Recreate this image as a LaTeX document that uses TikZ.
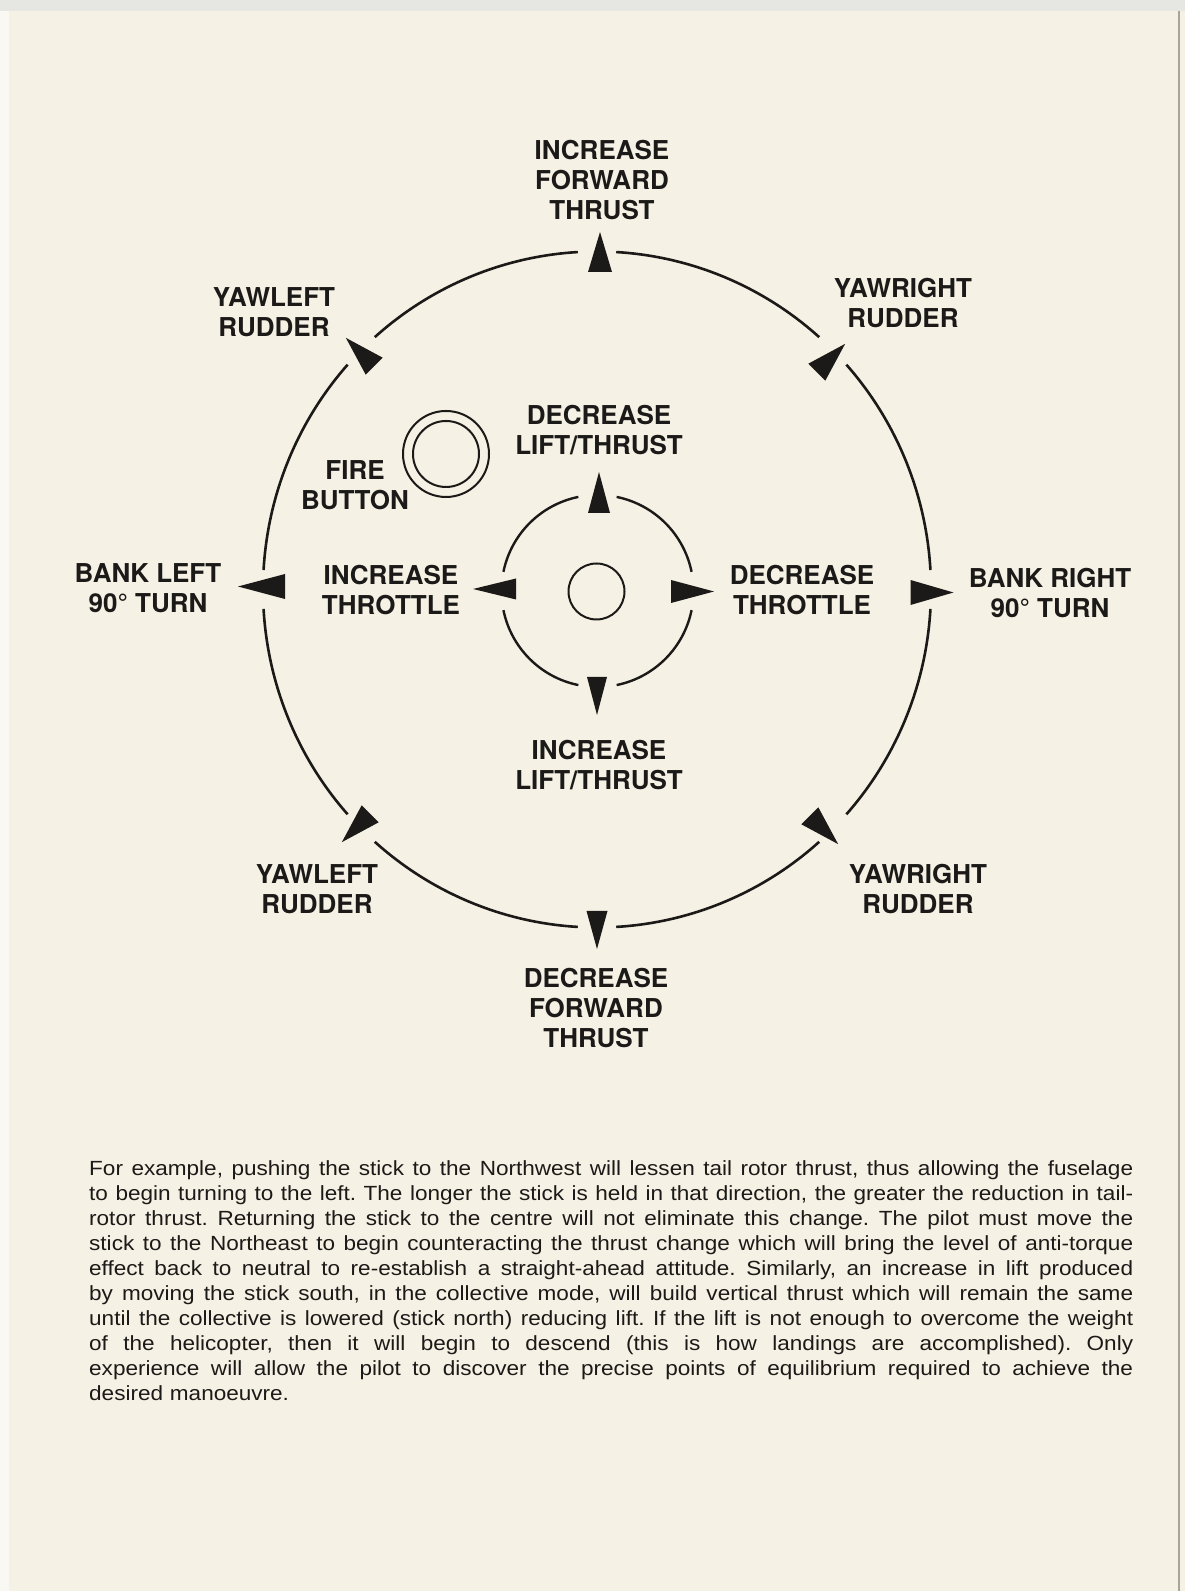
\documentclass[tikz,border=0pt]{standalone}
\usepackage{fontspec}
\setmainfont{TeX Gyre Heros}
\newfontfamily\lblfont{TeX Gyre Heros}
\newfontfamily\bodyfont[FakeStretch=1.1]{Liberation Sans}
\definecolor{paper}{RGB}{245,241,228}
\definecolor{ink}{RGB}{28,26,24}
\definecolor{topstrip}{RGB}{230,230,226}
\definecolor{leftstrip}{RGB}{249,248,242}
\definecolor{edge}{RGB}{170,165,152}
\newcommand{\dirarrow}[5]{%
  \fill[ink, shift={(#1,#2)}, rotate=#3] (#4/2,0) -- (-#4/2,#5/2) -- (-#4/2,-#5/2) -- cycle;}
\newcommand{\fline}[1]{\leavevmode\hbox to 1044pt{\spaceskip=0.22em plus 4em minus 0.08em\xspaceskip=\spaceskip #1}}
\tikzset{
  lbl/.style={inner sep=0pt, align=center, text=ink,
    font=\lblfont\bfseries\fontsize{26}{30}\selectfont},
  outerring/.style={draw=ink, line width=2.6pt},
  innerring/.style={draw=ink, line width=2.4pt},
  thinring/.style={draw=ink, line width=2pt},
  bodytext/.style={inner sep=0pt, text=ink, text width=1044pt, align=left,
    font=\bodyfont\frenchspacing\fontsize{20.5}{25}\selectfont}
}
\begin{document}
\begin{tikzpicture}[x=1pt,y=1pt]
\useasboundingbox (0,0) rectangle (1185,1591);
% page
\fill[paper] (0,0) rectangle (1185,1591);
\fill[leftstrip] (0,0) rectangle (9,1591);
\fill[topstrip] (0,1580) rectangle (1185,1591);
\draw[edge, line width=1.2pt] (1179,0) -- (1179,1580);

% outer ring with gaps
\coordinate (O) at (597,1001.5);
\foreach \a [evaluate=\a as \s using \a+3.3, evaluate=\a as \e using \a+41.7] in {0,45,...,315} {
  \draw[outerring] ([shift={(O)}]\s:334 and 338) arc[start angle=\s, end angle=\e, x radius=334, y radius=338];
}
% outer arrows
\dirarrow{600}{1339}{90}{40}{24}
\dirarrow{597}{661}{270}{38}{21}
\dirarrow{261.5}{1004.5}{180}{47}{25}
\dirarrow{932}{998.5}{0}{43}{25}
\dirarrow{360}{1239}{135}{40}{24}
\dirarrow{831}{1233}{45}{40}{24}
\dirarrow{356}{763}{225}{40}{24}
\dirarrow{824}{761}{315}{40}{24}

% inner ring with gaps
\coordinate (I) at (597.5,1000);
\foreach \a [evaluate=\a as \s using \a+11.5, evaluate=\a as \e using \a+78.5] in {0,90,180,270} {
  \draw[innerring] ([shift={(I)}]\s:96) arc[start angle=\s, end angle=\e, radius=96];
}
\dirarrow{599}{1098.5}{90}{41}{22}
\dirarrow{494.5}{1002}{180}{43}{21}
\dirarrow{692.5}{999.5}{0}{43}{23}
\dirarrow{597}{895}{270}{38}{20}

% centre stick circle
\coordinate (C) at (596.5,999.5);
\draw[thinring] (C) circle[radius=28];
% fire button
\coordinate (F) at (446,1137);
\draw[thinring] (F) circle[radius=43];
\draw[thinring] (F) circle[radius=33];

% labels
\node[lbl] (ift) at (602,1410.5) {INCREASE\\FORWARD\\THRUST};
\node[lbl] (ylu) at (274,1278.5) {YAWLEFT\\RUDDER};
\node[lbl] (yru) at (903,1287.5) {YAWRIGHT\\RUDDER};
\node[lbl] (dlt) at (599,1161) {DECREASE\\LIFT/THRUST};
\node[lbl] (fire) at (355,1105.5) {FIRE\\BUTTON};
\node[lbl] (bl) at (148,1002.5) {BANK LEFT\\90° TURN};
\node[lbl] (it) at (391,1001) {INCREASE\\THROTTLE};
\node[lbl] (dt) at (802,1001) {DECREASE\\THROTTLE};
\node[lbl] (br) at (1050,998) {BANK RIGHT\\90° TURN};
\node[lbl] (ilt) at (599,825.5) {INCREASE\\LIFT/THRUST};
\node[lbl] (yll) at (317,701.5) {YAWLEFT\\RUDDER};
\node[lbl] (yrl) at (918,701.5) {YAWRIGHT\\RUDDER};
\node[lbl] (dft) at (596,582.5) {DECREASE\\FORWARD\\THRUST};

% paragraph
\node[bodytext, anchor=base west] (para) at (89,415.4) {%
\fline{For example, pushing the stick to the Northwest will lessen tail rotor thrust, thus allowing the fuselage}\\
\fline{to begin turning to the left. The longer the stick is held in that direction, the greater the reduction in tail-}\\
\fline{rotor thrust. Returning the stick to the centre will not eliminate this change. The pilot must move the}\\
\fline{stick to the Northeast to begin counteracting the thrust change which will bring the level of anti-torque}\\
\fline{effect back to neutral to re-establish a straight-ahead attitude. Similarly, an increase in lift produced}\\
\fline{by moving the stick south, in the collective mode, will build vertical thrust which will remain the same}\\
\fline{until the collective is lowered (stick north) reducing lift. If the lift is not enough to overcome the weight}\\
\fline{of the helicopter, then it will begin to descend (this is how landings are accomplished). Only}\\
\fline{experience will allow the pilot to discover the precise points of equilibrium required to achieve the}\\
desired manoeuvre.};
\end{tikzpicture}
\end{document}
